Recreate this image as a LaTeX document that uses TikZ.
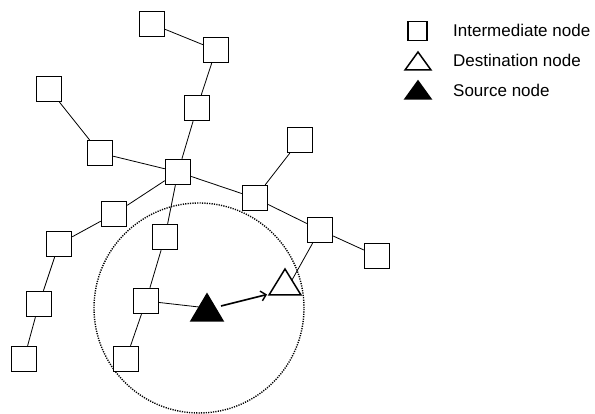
\documentclass[tikz,border=0pt]{standalone}
\usepackage{fontspec}
\setmainfont{Liberation Sans}
\usetikzlibrary{arrows.meta,calc}
\begin{document}
\begin{tikzpicture}[x=1pt,y=-1pt,
  sq/.style={draw,line width=1.4pt,minimum size=25pt,inner sep=0pt,fill=white},
  lsq/.style={draw,line width=1.2pt,minimum size=19pt,inner sep=0pt},
  link/.style={line width=0.8pt},
  tri/.style={line width=1.5pt,line join=miter},
  lbl/.style={anchor=base west,inner sep=0pt,font=\fontsize{17}{19}\selectfont},
  radiorange/.style={line width=1.4pt,dash pattern=on 1.2pt off 1.2pt},
  hop/.style={line width=1.6pt,-{Straight Barb[length=5pt,width=10pt,line width=1.4pt]}}]
\useasboundingbox (0,0) rectangle (595,414);

% communication range
\draw[radiorange] (199,308) circle[radius=105pt];

% intermediate nodes
\node[sq] (A) at (152,24) {};
\node[sq] (B) at (216,50) {};
\node[sq] (C) at (197,108) {};
\node[sq] (D) at (49,89) {};
\node[sq] (E) at (100,153) {};
\node[sq] (F) at (178,172) {};
\node[sq] (G) at (300,140) {};
\node[sq] (H) at (255,198) {};
\node[sq] (Q) at (114,214) {};
\node[sq] (I) at (59,244) {};
\node[sq] (J) at (39,304) {};
\node[sq] (K) at (24,359) {};
\node[sq] (L) at (165,237) {};
\node[sq] (M) at (146,301) {};
\node[sq] (N) at (126,359) {};
\node[sq] (O) at (320,230) {};
\node[sq] (P) at (377,256) {};

% destination and source triangles
\draw[tri] (285,269) -- (301,295) -- (269,295) -- cycle;
\draw[tri,fill=black] (207,294) -- (223,321) -- (191,321) -- cycle;
\coordinate (dstR) at (292,280);
\coordinate (dstA) at (267,294.5);
\coordinate (srcL) at (199,307);
\coordinate (srcA) at (221,306);

% links
\draw[link] (A) -- (B);
\draw[link] (B) -- (C);
\draw[link] (C) -- (F);
\draw[link] (D) -- (E);
\draw[link] (E) -- (F);
\draw[link] (F) -- (H);
\draw[link] (F) -- (Q);
\draw[link] (F) -- (L);
\draw[link] (H) -- (G);
\draw[link] (H) -- (O);
\draw[link] (O) -- (P);
\draw[link] (O) -- (dstR);
\draw[link] (Q) -- (I);
\draw[link] (I) -- (J);
\draw[link] (J) -- (K);
\draw[link] (L) -- (M);
\draw[link] (M) -- (N);
\draw[link] (M) -- (srcL);

% forwarding hop
\draw[hop] (srcA) -- (dstA);

% legend
\node[lsq] (lq) at (417.5,31) {};
\draw[tri] (418,52) -- (431,70) -- (405,70) -- cycle;
\draw[tri,fill=black] (418,81) -- (431,99) -- (405,99) -- cycle;
\node[lbl] (t1) at (453,37) {Intermediate node};
\node[lbl] (t2) at (453,67) {Destination node};
\node[lbl] (t3) at (453,97) {Source node};
\end{tikzpicture}
\end{document}
